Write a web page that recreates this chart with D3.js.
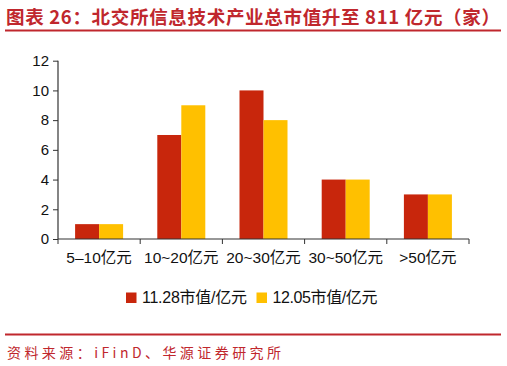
<!DOCTYPE html>
<html><head><meta charset="utf-8">
<script src="https://cdn.jsdelivr.net/npm/d3@7"></script>
<style>body{margin:0;background:#fff}svg{display:block}</style>
</head><body>
<script>
const categories = ["5–10亿元","10~20亿元","20~30亿元","30~50亿元",">50亿元"];
const seriesNames = ["11.28市值/亿元","12.05市值/亿元"];
const series1128 = [1,7,10,4,3];
const series1205 = [1,9,8,4,3];
const yTicks = [0,2,4,6,8,10,12];
const colors = ["#c8260c","#ffc000"];

const W=507,H=366;
const svg=d3.select("body").append("svg").attr("width",W).attr("height",H);
const red="#c0272d";
svg.append("text").attr("x",6).attr("y",24).attr("fill",red)
  .attr("font-family","Noto Sans CJK SC").attr("font-weight","bold").attr("font-size",18.5)
  .attr("textLength",494).attr("lengthAdjust","spacing")
  .text("图表 26：北交所信息技术产业总市值升至 811 亿元（家）");
svg.append("rect").attr("x",5).attr("y",29.5).attr("width",496).attr("height",2).attr("fill",red);
svg.append("rect").attr("x",5).attr("y",333.5).attr("width",496).attr("height",2).attr("fill",red);
svg.append("text").attr("x",7).attr("y",358).attr("fill",red)
  .attr("font-family","Noto Sans CJK SC").attr("font-size",14)
  .attr("textLength",274).attr("lengthAdjust","spacing")
  .text("资料来源：iFinD、华源证券研究所");

const x=d3.scaleBand().domain(categories).range([58,469]).paddingInner(0).paddingOuter(0);
const y=d3.scaleLinear().domain([0,12]).range([239,60.7]);
const bw=24, off=(x.bandwidth()-2*bw)/2;
const data=[series1128,series1205];
const g=svg.append("g");
data.forEach((s,i)=>{
  g.selectAll(null).data(s).enter().append("rect")
    .attr("x",(d,j)=>x(categories[j])+off+i*bw).attr("width",bw)
    .attr("y",d=>y(d)).attr("height",d=>y(0)-y(d)).attr("fill",colors[i]);
});
const font="Liberation Sans, Arial, sans-serif";
const ya=svg.append("g").attr("transform","translate(58,0)")
  .call(d3.axisLeft(y).tickValues(yTicks).tickSize(5).tickPadding(4));
const xa=svg.append("g").attr("transform","translate(0,239)")
  .call(d3.axisBottom(x).tickSize(5).tickPadding(8));
xa.selectAll(".tick line").remove();
xa.selectAll(null).data(categories.concat([null])).enter().append("line")
  .attr("x1",(d,i)=>58+i*x.bandwidth()).attr("x2",(d,i)=>58+i*x.bandwidth())
  .attr("y1",0).attr("y2",5).attr("stroke","#333");
[ya,xa].forEach(a=>{
  a.select(".domain").attr("stroke","#333").attr("stroke-width",1.2);
  a.selectAll(".tick line").attr("stroke","#333");
  a.selectAll("text").attr("font-family",font).attr("font-size",15).attr("fill","#111");
});
xa.select(".domain").attr("d","M58,0H469");
ya.select(".domain").attr("d","M0,60.7V239");
xa.selectAll(".tick text").attr("font-family","Liberation Sans, Noto Sans CJK SC").attr("font-size",15.5);

const leg=svg.append("g");
const lx=[126,256.5];
seriesNames.forEach((n,i)=>{
  leg.append("rect").attr("x",lx[i]).attr("y",292.5).attr("width",10.5).attr("height",10.5).attr("fill",colors[i]);
  leg.append("text").attr("x",lx[i]+16).attr("y",303).attr("font-family","Liberation Sans, Noto Sans CJK SC")
    .attr("font-size",16).attr("fill","#111")
    .attr("textLength",105).attr("lengthAdjust","spacing").text(n);
});
</script>
</body></html>
